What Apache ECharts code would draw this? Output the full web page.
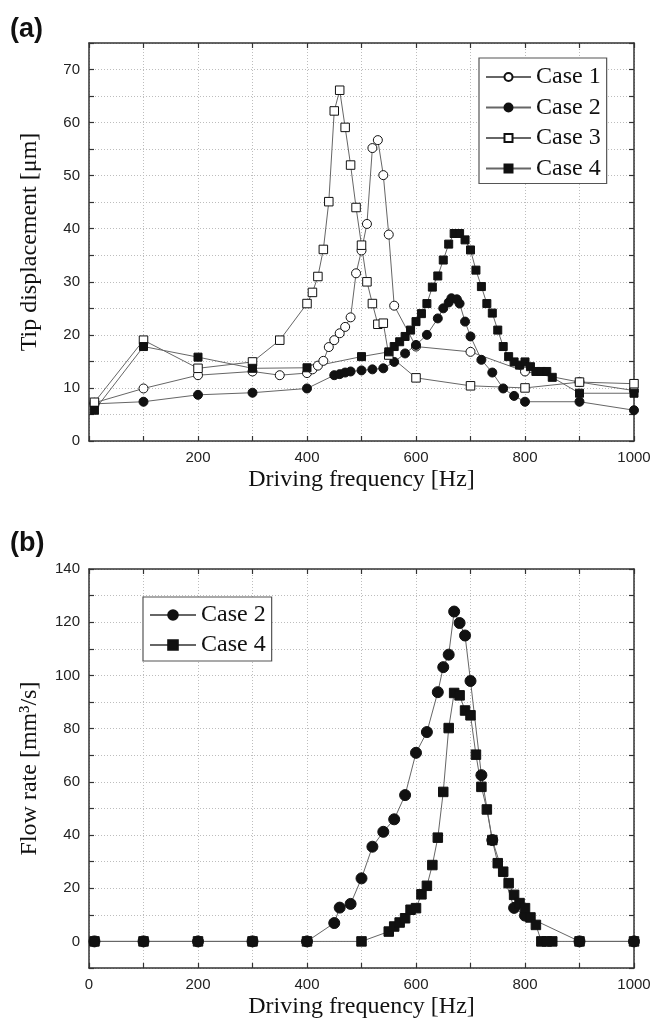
<!DOCTYPE html>
<html>
<head>
<meta charset="utf-8">
<script src="https://cdn.jsdelivr.net/npm/echarts@6/dist/echarts.min.js"></script>
<style>
  html, body { margin: 0; padding: 0; background: #fff; }
  #chart { width: 664px; height: 1023px; }
</style>
</head>
<body>
<div id="chart"></div>
<script>
// ---- (a) Tip displacement [um] vs driving frequency [Hz] ----
const case1Freq = [10, 100, 200, 300, 350, 400, 410, 420, 430, 440, 450, 460, 470, 480, 490, 500, 510, 520, 530, 540, 550, 560, 600, 700, 800, 900, 1000];
const case1Disp = [7.2, 9.9, 12.4, 13.1, 12.4, 12.8, 13.5, 14.2, 15.1, 17.7, 19.0, 20.3, 21.5, 23.3, 31.6, 35.9, 40.9, 55.2, 56.7, 50.1, 38.9, 25.5, 17.8, 16.8, 13.1, 11.1, 9.5];

const case2Freq = [10, 100, 200, 300, 400, 450, 460, 470, 480, 500, 520, 540, 560, 580, 600, 620, 640, 650, 660, 665, 675, 680, 690, 700, 720, 740, 760, 780, 800, 900, 1000];
const case2Disp = [7.0, 7.4, 8.7, 9.1, 9.9, 12.4, 12.6, 12.9, 13.1, 13.3, 13.5, 13.7, 14.9, 16.5, 18.1, 20.0, 23.1, 25.0, 26.1, 26.9, 26.7, 25.9, 22.5, 19.7, 15.3, 12.9, 9.9, 8.5, 7.4, 7.4, 5.8];

const case3Freq = [10, 100, 200, 300, 350, 400, 410, 420, 430, 440, 450, 460, 470, 480, 490, 500, 510, 520, 530, 540, 550, 600, 700, 800, 900, 1000];
const case3Disp = [7.3, 19.0, 13.7, 14.9, 19.0, 25.9, 28.0, 31.0, 36.1, 45.1, 62.2, 66.1, 59.1, 52.0, 44.0, 36.9, 30.0, 25.9, 22.0, 22.2, 16.2, 11.9, 10.4, 10.0, 11.1, 10.8];

const case4Freq = [10, 100, 200, 300, 400, 500, 550, 560, 570, 580, 590, 600, 610, 620, 630, 640, 650, 660, 670, 680, 690, 700, 710, 720, 730, 740, 750, 760, 770, 780, 790, 800, 810, 820, 830, 840, 850, 900, 1000];
const case4Disp = [5.8, 17.8, 15.8, 13.7, 13.8, 15.9, 16.8, 17.8, 18.7, 19.7, 20.9, 22.5, 24.0, 25.9, 29.0, 31.1, 34.1, 37.1, 39.1, 39.1, 37.9, 36.0, 32.2, 29.1, 25.9, 24.1, 20.9, 17.8, 15.9, 14.9, 14.3, 14.9, 14.0, 13.1, 13.1, 13.1, 12.0, 9.0, 9.0];

// ---- (b) Flow rate [mm^3/s] vs driving frequency [Hz] ----
const flow2Freq = [10, 100, 200, 300, 400, 450, 460, 480, 500, 520, 540, 560, 580, 600, 620, 640, 650, 660, 670, 680, 690, 700, 720, 740, 780, 800, 900, 1000];
const flow2Rate = [0, 0, 0, 0, 0, 6.9, 12.7, 14.1, 23.7, 35.6, 41.2, 45.9, 55.0, 70.9, 78.7, 93.7, 103.1, 107.8, 124.0, 119.7, 115.0, 97.9, 62.5, 38.1, 12.6, 9.7, 0, 0];

const flow4Freq = [10, 100, 200, 300, 400, 500, 550, 560, 570, 580, 590, 600, 610, 620, 630, 640, 650, 660, 670, 680, 690, 700, 710, 720, 730, 740, 750, 760, 770, 780, 790, 800, 810, 820, 830, 840, 850, 900, 1000];
const flow4Rate = [0, 0, 0, 0, 0, 0, 3.7, 5.6, 7.1, 8.7, 11.9, 12.5, 17.7, 20.9, 28.7, 39.0, 56.2, 80.2, 93.4, 92.5, 86.8, 85.0, 70.2, 58.1, 49.6, 38.1, 29.4, 26.2, 21.9, 17.5, 14.4, 12.5, 9.0, 6.2, 0, 0, 0, 0, 0];

const caseNames = ['Case 1', 'Case 2', 'Case 3', 'Case 4'];

const zip = (xs, ys) => xs.map((x, i) => [x, ys[i]]);

const SANS = 'Liberation Sans, Arial, sans-serif';
const SERIF = 'Liberation Serif, Times New Roman, serif';
const FRAME = '#333';
const LINE = '#666';

function frameAxis(extra) {
  return Object.assign({
    type: 'value',
    axisLine: { show: true, onZero: false, lineStyle: { color: FRAME, width: 1.5 } },
    axisTick: { show: true, inside: true, length: 5, lineStyle: { color: FRAME, width: 1.2 } },
    axisLabel: { show: false },
    splitLine: { show: false }
  }, extra);
}

const gridDots = { show: true, lineStyle: { color: '#bdbdbd', width: 1, type: [1, 2] } };
const tickFont = { fontFamily: SANS, fontSize: 15, color: '#222' };
const nameFont = { fontFamily: SERIF, fontSize: 24, color: '#111' };

const openStyle = { color: '#fff', borderColor: '#111', borderWidth: 1 };
const fillStyle = { color: '#111', borderColor: '#111', borderWidth: 1 };

function lineSeries(name, data, symbol, size, style, gi) {
  return {
    name, type: 'line', data, symbol, symbolSize: size, showAllSymbol: true,
    xAxisIndex: gi * 2, yAxisIndex: gi * 2,
    lineStyle: { color: LINE, width: 1 },
    itemStyle: style,
    emphasis: { disabled: true },
    animation: false
  };
}

const option = {
  animation: false,
  backgroundColor: '#fff',
  grid: [
    { left: 89, right: 30, top: 43, height: 398, outerBoundsMode: 'none', containLabel: false },
    { left: 89, right: 30, top: 569, height: 399, outerBoundsMode: 'none', containLabel: false }
  ],
  xAxis: [
    frameAxis({
      gridIndex: 0, position: 'bottom', min: 0, max: 1000, interval: 100,
      axisLabel: Object.assign({ show: true, margin: 9,
        formatter: v => (v % 200 === 0 && v > 0) ? String(v) : '' }, tickFont),
      splitLine: gridDots,
      name: 'Driving frequency [Hz]', nameLocation: 'middle', nameGap: 27, nameTextStyle: nameFont
    }),
    frameAxis({ gridIndex: 0, position: 'top', min: 0, max: 1000, interval: 100 }),
    frameAxis({
      gridIndex: 1, position: 'bottom', min: 0, max: 1000, interval: 100,
      axisLabel: Object.assign({ show: true, margin: 9,
        formatter: v => (v % 200 === 0) ? String(v) : '' }, tickFont),
      splitLine: gridDots,
      name: 'Driving frequency [Hz]', nameLocation: 'middle', nameGap: 27, nameTextStyle: nameFont
    }),
    frameAxis({ gridIndex: 1, position: 'top', min: 0, max: 1000, interval: 100 })
  ],
  yAxis: [
    frameAxis({
      gridIndex: 0, position: 'left', min: 0, max: 75, interval: 5,
      axisLabel: Object.assign({ show: true, margin: 9,
        formatter: v => (v % 10 === 0) ? String(v) : '' }, tickFont),
      splitLine: gridDots,
      name: 'Tip displacement [μm]', nameLocation: 'middle', nameGap: 47, nameTextStyle: nameFont
    }),
    frameAxis({ gridIndex: 0, position: 'right', min: 0, max: 75, interval: 5 }),
    frameAxis({
      gridIndex: 1, position: 'left', min: -10, max: 140, interval: 10,
      axisLabel: Object.assign({ show: true, margin: 9,
        formatter: v => (v % 20 === 0) ? String(v) : '' }, tickFont),
      splitLine: gridDots,
      name: 'Flow rate [mm³/s]', nameLocation: 'middle', nameGap: 47, nameTextStyle: nameFont
    }),
    frameAxis({ gridIndex: 1, position: 'right', min: -10, max: 140, interval: 10 })
  ],
  legend: [
    {
      data: caseNames.map(n => ({ name: n })),
      orient: 'vertical', left: 479, top: 58,
      itemWidth: 45, itemHeight: 10, itemGap: 6.5,
      padding: [7, 6, 3, 6],
      borderColor: '#555', borderWidth: 1.2, backgroundColor: '#fff',
      selectedMode: false,
      textStyle: { fontFamily: SERIF, fontSize: 24, color: '#111', lineHeight: 24 }
    },
    {
      data: [{ name: 'Case 2 ' }, { name: 'Case 4 ' }],
      orient: 'vertical', left: 143, top: 597,
      itemWidth: 46, itemHeight: 12, itemGap: 6,
      padding: [6, 6, 4, 6],
      borderColor: '#555', borderWidth: 1.2, backgroundColor: '#fff',
      selectedMode: false,
      formatter: n => n.trim(),
      textStyle: { fontFamily: SERIF, fontSize: 24, color: '#111', lineHeight: 24 }
    }
  ],
  graphic: [
    { type: 'text', left: 10, top: 16, style: { text: '(a)', fontFamily: SANS, fontWeight: 'bold', fontSize: 27, fill: '#111' } },
    { type: 'text', left: 10, top: 530, style: { text: '(b)', fontFamily: SANS, fontWeight: 'bold', fontSize: 27, fill: '#111' } }
  ],
  series: [
    lineSeries('Case 1', zip(case1Freq, case1Disp), 'circle', 9, openStyle, 0),
    lineSeries('Case 2', zip(case2Freq, case2Disp), 'circle', 9, fillStyle, 0),
    lineSeries('Case 3', zip(case3Freq, case3Disp), 'rect', 8.5, openStyle, 0),
    lineSeries('Case 4', zip(case4Freq, case4Disp), 'rect', 8, fillStyle, 0),
    lineSeries('Case 2 ', zip(flow2Freq, flow2Rate), 'circle', 11, fillStyle, 1),
    lineSeries('Case 4 ', zip(flow4Freq, flow4Rate), 'rect', 9.5, fillStyle, 1)
  ]
};

const chart = echarts.init(document.getElementById('chart'), null, { renderer: 'canvas' });
chart.setOption(option);
</script>
</body>
</html>
